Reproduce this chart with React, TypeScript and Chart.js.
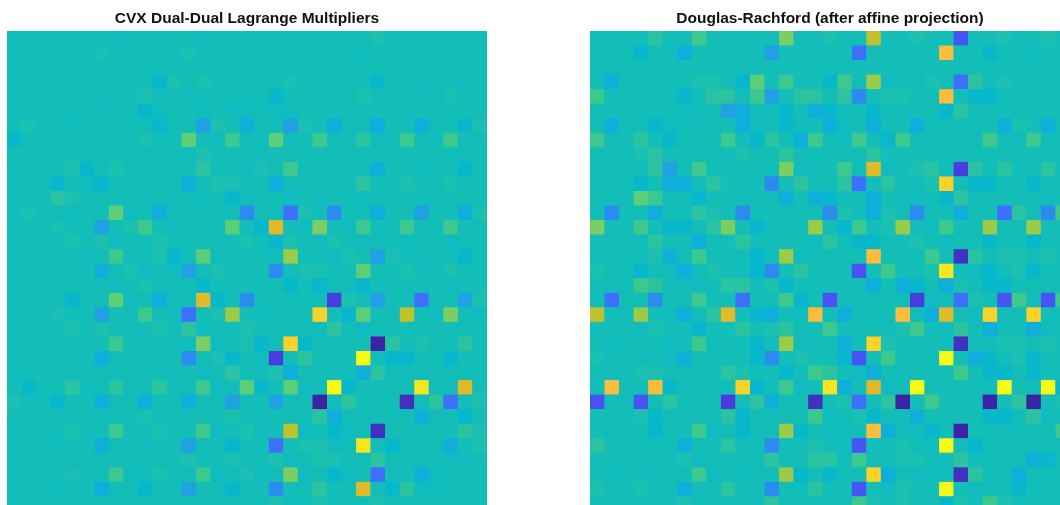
import React, { useEffect, useRef } from "react";
import { Chart, registerables } from "chart.js";

Chart.register(...registerables);

const titles = ["CVX Dual-Dual Lagrange Multipliers", "Douglas-Rachford (after affine projection)"];

// Colour levels -10 .. +12, 0 being the background teal.
const levels = [
  "#3C23A4", "#4230C0", "#4A3DE0", "#4853F4", "#3E70FF", "#2C8BEF", "#22A0E4", "#10AEDA", "#07B8CC", "#10BCBE",
  "#14BEB8",
  "#1BC0B0", "#2BC3A0", "#3DC98D", "#5CCE78", "#7CCE62", "#9CCB48", "#BFC12F", "#E0BA2B", "#FDBC3C", "#FBD22A", "#F6E620", "#F9FB15",
];

const cvxValues = [
  [0,0,0,0,0,0,0,-1,0,0,0,  0,0,-1,0,0,0,0,0,0,0,0,  0,0,0,1,0,0,0,0,0,0,0],
  [0,0,0,0,0,0,1,0,0,0,0,  0,1,0,0,0,0,0,0,0,0,0,  0,0,-1,0,0,0,0,0,0,0,0],
  [0,0,0,0,0,0,0,0,0,0,0,  0,0,0,0,0,0,0,0,0,0,0,  0,0,0,0,0,0,0,0,0,0,0],
  [0,0,0,0,0,0,0,0,0,0,-2,  1,0,1,0,0,0,0,0,1,0,0,  0,0,0,-2,0,0,-1,0,0,-1,0],
  [0,0,0,0,0,0,-1,0,0,1,0,  0,-1,0,0,0,0,0,-2,0,0,0,  0,0,1,0,0,0,0,0,1,0,0],
  [0,0,0,0,0,0,0,0,0,-2,-1,  0,0,-1,0,-1,-1,0,-1,-1,0,0,  0,0,0,0,0,0,0,0,0,0,0],
  [0,1,0,0,-1,0,0,0,0,0,-2,  0,0,-4,1,0,-3,0,0,-4,1,0,  -3,0,0,-3,0,0,-3,0,0,-2,1],
  [-2,0,0,0,0,0,0,0,0,1,0,  0,4,0,-1,3,0,-1,4,0,0,3,  0,0,2,0,0,3,0,0,3,0,0],
  [0,0,0,0,0,0,0,0,0,0,0,  0,-1,1,0,0,0,0,0,0,0,0,  0,0,0,0,0,0,0,0,0,0,0],
  [0,0,0,0,1,-2,0,1,0,0,0,  0,0,2,0,0,-1,1,0,3,0,0,  0,0,0,-3,0,0,-1,0,0,-2,0],
  [0,0,0,-2,0,-1,-2,0,0,0,0,  0,-3,0,1,1,0,0,-3,0,0,0,  0,0,2,0,0,1,0,0,1,0,0],
  [0,0,0,2,1,0,0,0,0,0,0,  0,0,-1,0,-2,-1,0,0,-1,0,-1,  0,0,-1,0,0,0,0,0,0,0,0],
  [0,1,0,0,-1,0,0,4,-1,0,-3,  0,0,0,0,0,-5,0,0,-6,1,0,  -5,0,0,-3,0,0,-4,0,0,-3,1],
  [-1,0,0,1,0,0,-4,0,1,3,0,  -1,0,0,0,4,0,-2,8,0,-1,5,  0,-1,3,0,0,3,0,0,3,0,0],
  [0,0,0,0,1,0,1,-1,0,0,1,  0,0,0,0,0,1,0,-2,1,0,-1,  1,0,-1,0,0,-1,0,0,-1,0,0],
  [0,0,0,0,0,-1,0,3,0,0,1,  -2,0,4,-1,0,0,0,0,6,0,0,  -1,1,0,-4,1,0,-1,0,0,-2,0],
  [0,0,0,0,0,0,-3,0,1,-1,0,  -1,-4,0,1,0,0,0,-5,0,1,1,  0,0,4,0,0,1,0,0,1,0,0],
  [0,0,0,0,0,0,0,-1,0,1,0,  0,0,-2,0,0,0,0,0,-2,0,-2,  0,0,-2,0,0,0,0,0,-1,0,0],
  [0,0,0,0,-2,0,0,4,-1,0,-3,  0,0,8,-2,0,-5,0,0,0,0,0,  -8,1,0,-4,0,0,-6,0,0,-4,1],
  [0,0,0,1,0,0,-4,0,0,3,0,  -1,-6,0,1,6,0,-1,0,0,0,10,  0,-2,4,0,0,7,0,-1,5,0,-1],
  [0,0,0,0,1,0,1,0,0,0,1,  0,2,-1,0,0,1,0,0,0,0,-1,  2,0,-1,0,0,0,0,0,0,0,0],
  [0,0,0,0,0,0,0,3,0,0,0,  0,0,5,-1,0,1,-2,0,10,-2,0,  0,0,0,-10,2,0,1,0,0,2,0],
  [0,0,0,0,0,0,-3,0,0,0,0,  0,-5,0,1,-2,0,-1,-8,0,2,0,  0,0,12,0,-2,-2,0,0,-2,0,0],
  [0,0,0,0,0,0,0,0,0,0,0,  0,0,-1,0,2,0,0,1,-3,0,0,  0,0,-3,2,0,0,0,0,0,0,0],
  [0,-2,0,0,2,-1,0,2,0,0,2,  -1,0,3,-1,0,4,-2,0,4,-1,0,  12,-2,0,0,0,0,11,0,0,8,0],
  [1,0,0,-2,0,0,-3,0,0,-3,0,  0,-3,0,0,-4,0,0,-4,0,0,-10,  0,2,0,0,0,-9,0,2,-6,0,1],
  [0,0,0,0,0,0,0,0,0,1,0,  0,0,0,0,1,0,0,0,0,0,2,  -3,0,0,0,0,0,-3,0,0,-2,0],
  [0,0,0,0,1,0,0,3,0,0,1,  0,0,3,-1,0,1,-1,0,7,-1,0,  -2,-1,0,-9,0,0,0,0,0,2,1],
  [0,0,0,-1,0,0,-3,0,0,-1,0,  0,-4,0,0,-2,0,0,-6,0,1,1,  -1,0,11,0,-2,0,0,0,-3,0,1],
  [0,0,0,0,0,0,0,0,0,0,0,  0,1,0,0,1,0,0,1,-1,0,1,  1,0,0,2,0,0,0,0,-1,-1,0],
  [0,0,0,0,1,0,0,3,-1,0,1,  0,0,3,-1,0,1,-1,0,5,-1,0,  -2,-1,0,-6,0,0,-3,-1,0,0,0],
  [0,0,0,-1,0,0,-3,0,0,-2,0,  0,-4,0,0,-2,0,0,-5,0,0,2,  0,0,8,0,-2,2,-1,-1,0,0,0],
  [0,0,0,0,0,0,0,0,0,0,0,  0,0,0,0,0,0,0,1,-1,0,1,  0,0,0,1,0,0,0,0,0,0,0],
];

const drValues = [
  [0,0,0,0,2,0,0,3,0,0,0,  0,0,5,0,0,1,0,0,7,0,0,  1,0,0,-7,0,0,1,0,0,1,0],
  [0,0,0,-2,0,0,-3,0,0,0,0,  0,-4,0,0,-1,0,0,-6,0,0,0,  0,0,9,0,0,-2,0,0,-1,0,0],
  [0,0,0,0,0,0,0,0,0,0,0,  0,0,0,0,0,0,0,0,0,0,0,  0,0,0,0,0,0,0,0,0,0,0],
  [0,-3,0,0,0,0,0,1,1,0,-2,  4,0,3,0,0,-2,3,0,6,-1,0,  -1,1,0,-6,2,0,1,0,0,0,0],
  [3,0,0,0,0,0,-2,0,2,2,0,  3,-4,0,2,2,0,2,-5,0,1,1,  0,0,9,0,-2,-2,0,0,0,0,0],
  [0,0,0,0,0,0,-1,-1,0,-4,-3,  0,0,-2,0,-3,-2,0,0,-2,0,0,  0,0,-2,2,0,0,0,0,0,0,0],
  [0,-3,0,0,-2,-1,0,0,0,0,-3,  -1,0,-2,-1,0,-3,-1,0,-3,0,0,  -3,0,0,0,0,0,-3,1,0,-3,0],
  [3,0,0,2,0,-2,0,0,0,3,0,  -2,2,0,-3,3,0,-1,3,0,-2,3,  0,0,0,0,0,3,0,-1,3,0,0],
  [0,0,0,1,2,0,0,0,0,0,1,  0,0,2,0,0,0,0,0,2,0,0,  0,0,0,0,0,0,0,0,0,0,0],
  [0,0,0,0,2,-4,0,3,0,0,0,  0,0,5,-1,0,0,3,0,8,-1,0,  1,2,0,-8,2,0,2,0,0,2,0],
  [0,0,0,-2,0,-3,-3,0,2,0,0,  0,-5,0,2,0,0,2,-6,0,2,0,  0,1,10,0,-2,-2,0,0,-2,0,0],
  [0,0,0,4,3,0,0,-2,0,0,0,  0,0,-3,0,-3,-2,0,0,-3,0,-1,  -1,0,-2,2,0,0,0,0,0,-1,0],
  [0,-5,0,0,-3,0,0,2,1,0,-5,  0,0,0,0,0,-5,1,0,-3,1,0,  -5,0,0,-3,0,0,-6,2,0,-5,3],
  [5,0,0,3,0,-2,-2,0,2,5,0,  -2,0,0,0,6,0,-2,3,0,1,6,  0,-1,3,0,0,6,0,0,6,0,0],
  [0,0,0,-1,2,0,0,-3,0,0,2,  0,0,0,0,-1,2,0,-2,-2,0,0,  1,0,-1,0,0,-2,0,0,-2,0,0],
  [0,0,0,0,1,-3,0,3,0,0,0,  -2,0,6,-1,0,0,0,0,9,0,0,  0,3,0,-9,2,0,1,1,0,1,0],
  [1,0,0,-2,0,-1,-3,0,1,0,0,  -2,-5,0,2,0,0,0,-7,0,3,0,  0,1,11,0,-1,-2,0,1,-2,0,0],
  [0,0,0,3,2,0,-1,-1,0,2,2,  0,1,-2,0,0,0,0,0,-3,0,-3,  -2,0,-3,1,0,-2,-2,0,0,0,0],
  [0,-6,0,0,-5,0,0,3,0,0,-6,  0,0,3,-2,0,-7,0,0,0,0,0,  -8,-1,0,-6,1,0,-7,3,0,-7,3],
  [7,0,0,6,0,-1,-3,0,2,8,0,  -2,-3,0,-1,9,0,-3,0,0,0,9,  0,-3,8,0,-1,10,0,0,10,0,0],
  [0,0,0,-1,1,0,0,-2,0,0,2,  0,1,2,0,0,3,0,0,0,0,1,  3,0,-1,2,0,-3,0,0,-3,-1,0],
  [0,-1,0,0,0,-1,0,3,0,0,0,  -2,0,6,-1,0,0,-3,0,10,1,0,  0,0,0,-9,0,0,1,1,0,1,0],
  [1,0,0,-1,0,-1,-3,0,0,0,0,  -2,-5,0,1,0,0,-2,-7,0,3,0,  0,0,12,0,-3,-2,0,1,-2,0,0],
  [0,0,0,1,1,0,0,0,0,2,1,  0,0,-2,0,3,2,0,-1,-3,0,0,  0,0,0,3,0,-2,-2,0,-2,0,0],
  [0,9,0,0,9,-2,0,0,0,0,10,  -2,0,3,-1,0,11,-3,0,8,-1,0,  12,0,0,0,0,0,12,0,0,12,-2],
  [-7,0,0,-7,0,2,0,0,0,-8,0,  2,-3,0,0,-9,0,1,-6,0,2,-10,  0,3,0,0,0,-10,0,2,-10,0,1],
  [0,0,0,1,-2,0,0,0,0,2,-2,  0,0,0,0,3,-1,0,1,-2,0,0,  -3,0,0,0,0,-2,-2,0,2,-1,0],
  [0,-1,0,0,-2,0,0,3,-1,0,-2,  0,0,6,-2,0,-1,-1,0,9,-3,0,  -1,-2,0,-10,0,0,0,0,0,0,3],
  [2,0,0,0,0,0,-3,0,0,2,0,  0,-5,0,0,1,0,-1,-7,0,0,1,  0,-1,12,0,-2,0,0,0,0,0,0],
  [0,0,0,0,0,0,1,-1,0,0,0,  0,2,0,0,2,2,0,3,0,0,1,  1,0,0,2,0,0,0,0,-3,-2,0],
  [0,-1,0,0,-1,0,0,3,-1,0,-1,  0,0,6,-2,0,-2,0,0,10,-3,0,  -1,-1,0,-9,2,0,0,-3,0,0,0],
  [1,0,0,1,0,0,-3,0,0,2,0,  0,-5,0,-1,2,0,0,-7,0,-1,1,  0,0,12,0,-1,0,0,-2,0,0,0],
  [0,0,0,0,0,0,1,0,0,0,0,  0,2,0,0,0,0,0,3,1,0,1,  0,0,-2,1,0,3,1,0,0,0,0],
];

const GRID = 33;

const baseFill = {
  id: "baseFill",
  beforeDatasetsDraw(chart: any) {
    const { ctx, chartArea } = chart;
    ctx.save();
    ctx.fillStyle = levels[10];
    ctx.fillRect(chartArea.left, chartArea.top, chartArea.width, chartArea.height);
    ctx.restore();
  },
};

function Heatmap({ title, values, left }: { title: string; values: number[][]; left: number }) {
  const ref = useRef<HTMLCanvasElement | null>(null);
  useEffect(() => {
    const points: { x: number; y: number }[] = [];
    const colors: string[] = [];
    values.forEach((row, r) =>
      row.forEach((v, c) => {
        points.push({ x: c + 0.5, y: r + 0.5 });
        colors.push(levels[v + 10]);
      })
    );
    const chart = new Chart(ref.current!, {
      type: "scatter",
      data: {
        datasets: [
          {
            data: points,
            pointStyle: "rect",
            pointRadius: (480 / GRID / 2) * Math.SQRT2,
            pointBorderWidth: 0,
            pointBackgroundColor: colors,
          },
        ],
      },
      options: {
        animation: false,
        responsive: false,
        events: [],
        layout: { autoPadding: false, padding: { left: 7, right: 8, top: 0, bottom: 0 } },
        scales: {
          x: { type: "linear", min: 0, max: GRID, display: false },
          y: { type: "linear", min: 0, max: GRID, reverse: true, display: false },
        },
        plugins: {
          legend: { display: false },
          tooltip: { enabled: false },
          title: {
            display: true,
            text: title,
            color: "#111111",
            font: { family: "'Liberation Sans', Arial, sans-serif", size: 15.5, weight: "bold", lineHeight: 1.2 },
            padding: { top: 9, bottom: 3.4 },
          },
        },
      },
      plugins: [baseFill],
    } as any);
    return () => chart.destroy();
  }, [title, values]);
  return (
    <canvas
      ref={ref}
      width={495}
      height={511}
      style={{ position: "absolute", left, top: 0, width: 495, height: 511, display: "block" }}
    />
  );
}

export default function App() {
  return (
    <div style={{ position: "fixed", left: 0, top: 0, width: 1060, height: 505, overflow: "hidden", background: "#fff" }}>
      <Heatmap title={titles[0]} values={cvxValues} left={0} />
      <Heatmap title={titles[1]} values={drValues} left={583} />
    </div>
  );
}
